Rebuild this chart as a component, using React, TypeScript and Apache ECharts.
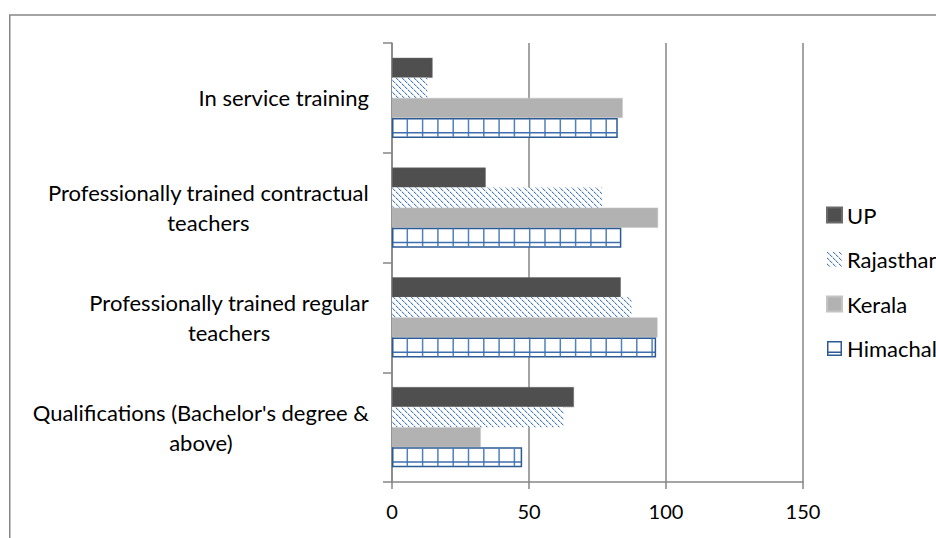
import React, { useEffect, useRef } from "react";
import * as echarts from "echarts";

const categories = [
  "Qualifications (Bachelor's degree &\nabove)",
  "Professionally trained regular\nteachers",
  "Professionally trained contractual\nteachers",
  "In service training",
];
const seriesNames = ["UP", "Rajasthan", "Kerala", "Himachal"];
const upValues = [66.4, 83.5, 34.2, 14.8];
const rajasthanValues = [62.7, 87.4, 76.7, 12.9];
const keralaValues = [32.4, 96.9, 97.1, 84.2];
const himachalValues = [47.5, 96.4, 83.7, 82.4];
const xTicks = { min: 0, max: 150, interval: 50 };

const FONT = "Lato";
const GRAY = "#868686";
const GAP = 0.27;
const LABEL_SIZE = 22;

function makeDiagPattern(): HTMLCanvasElement {
  const c = document.createElement("canvas");
  c.width = 6;
  c.height = 6;
  const ctx = c.getContext("2d")!;
  ctx.fillStyle = "#ffffff";
  ctx.fillRect(0, 0, 6, 6);
  const dark = ["#3f74b8", "#4f81bd", "#8fb0da", "#3f74b8", "#4f81bd", "#c5d6ee"];
  for (let i = 0; i < 6; i++) {
    ctx.fillStyle = dark[i];
    ctx.fillRect(i, i, 1, 1);
    ctx.fillStyle = "#d6e2f2";
    ctx.fillRect((i + 1) % 6, i, 1, 1);
  }
  return c;
}

export default function App() {
  const ref = useRef<HTMLDivElement>(null);
  useEffect(() => {
    if (!ref.current) return;
    const chart = echarts.init(ref.current, null, { renderer: "svg" });
    const pattern = { image: makeDiagPattern(), repeat: "repeat" };
    const himachalData = himachalValues.map((v, i) => [v, i]);

    const option: any = {
      animation: false,
      backgroundColor: "#ffffff",
      textStyle: { fontFamily: FONT },
      graphic: [
        {
          type: "rect",
          shape: { x: 9.75, y: 15, width: 1200, height: 1200 },
          style: { fill: "none", stroke: GRAY, lineWidth: 1.5 },
          silent: true,
        },
      ],
      grid: { left: 392, right: 133, top: 43, bottom: 56, containLabel: false },
      legend: {
        orient: "vertical",
        left: 826,
        top: 204,
        padding: 0,
        itemWidth: 15,
        itemHeight: 15,
        itemGap: 22.5,
        textStyle: { fontFamily: FONT, fontSize: LABEL_SIZE, color: "#000" },
        data: [
          { name: "UP", icon: "rect" },
          { name: "Rajasthan", icon: "rect" },
          { name: "Kerala", icon: "rect" },
          {
            name: "Himachal",
            icon: "path://M0 0H15V15H0Z M1.5 1.5V10.5H13.5V1.5Z M1.5 12V13.5H13.5V12Z",
            itemStyle: { color: "#2c5a94", borderWidth: 0 },
          },
        ],
      },
      xAxis: {
        type: "value",
        min: xTicks.min,
        max: xTicks.max,
        interval: xTicks.interval,
        axisLine: { show: true, lineStyle: { color: GRAY, width: 1.5 } },
        axisTick: { show: true, length: 7, lineStyle: { color: GRAY, width: 1.5 } },
        splitLine: { show: true, lineStyle: { color: GRAY, width: 1.5 } },
        axisLabel: { color: "#000", fontFamily: FONT, fontSize: 20, margin: 19 },
      },
      yAxis: {
        type: "category",
        data: categories,
        axisLine: { show: true, lineStyle: { color: GRAY, width: 1.5 } },
        axisTick: { show: true, length: 9, lineStyle: { color: GRAY, width: 1.5 } },
        axisLabel: {
          color: "#000",
          fontFamily: FONT,
          fontSize: LABEL_SIZE,
          lineHeight: 30,
          margin: 23,
          align: "right",
          formatter: (v: string) =>
            v
              .split("\n")
              .map((s) => "{c|" + s + "}")
              .join("\n"),
          rich: {
            c: {
              align: "center",
              color: "#000",
              fontFamily: FONT,
              fontSize: LABEL_SIZE,
              lineHeight: 30,
            },
          },
        },
      },
      series: [
        {
          name: seriesNames[0],
          type: "bar",
          data: upValues,
          barGap: "0%",
          barCategoryGap: GAP * 100 + "%",
          itemStyle: { color: "#4f4f4f", borderColor: "#6a6a6a", borderWidth: 0.5 },
        },
        {
          name: seriesNames[1],
          type: "bar",
          data: rajasthanValues,
          barGap: "0%",
          barCategoryGap: GAP * 100 + "%",
          itemStyle: { color: pattern },
        },
        {
          name: seriesNames[2],
          type: "bar",
          data: keralaValues,
          barGap: "0%",
          barCategoryGap: GAP * 100 + "%",
          itemStyle: { color: "#b2b2b2", borderColor: "#c4c4c4", borderWidth: 0.5 },
        },
        {
          name: seriesNames[3],
          type: "bar",
          data: himachalValues,
          barGap: "0%",
          barCategoryGap: GAP * 100 + "%",
          itemStyle: { color: "#ffffff", borderColor: "#2c5a94", borderWidth: 1.5 },
        },
        {
          name: "HimachalGrid",
          type: "custom",
          z: 5,
          silent: true,
          data: himachalData,
          encode: { x: 0, y: 1 },
          renderItem: (params: any, api: any) => {
            const v = api.value(0);
            const c = api.value(1);
            const p0 = api.coord([0, c]);
            const p1 = api.coord([v, c]);
            const band = api.size([0, 1])[1];
            const barH = (band * (1 - GAP)) / 4;
            const top = p0[1] + barH;
            const bottom = top + barH;
            const children: any[] = [];
            const step = 15.3;
            for (let x = p0[0] + step; x < p1[0] - 2; x += step) {
              children.push({
                type: "line",
                shape: { x1: x, y1: top + 1, x2: x, y2: bottom - 1 },
                style: { stroke: "#4f81bd", lineWidth: 1.5 },
              });
            }
            const hy = top + barH * 0.74;
            children.push({
              type: "line",
              shape: { x1: p0[0] + 1, y1: hy, x2: p1[0] - 1, y2: hy },
              style: { stroke: "#3e6fae", lineWidth: 1.5 },
            });
            return { type: "group", children };
          },
        },
      ],
    };
    chart.setOption(option);
    return () => chart.dispose();
  }, []);
  return (
    <div
      ref={ref}
      style={{ position: "absolute", left: 0, top: 0, width: 936, height: 538 }}
    />
  );
}
